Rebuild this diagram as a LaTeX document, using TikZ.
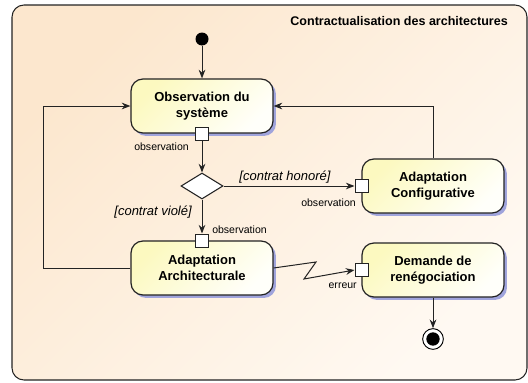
\documentclass[tikz,border=0pt]{standalone}
\usepackage{fontspec}
\setmainfont{Liberation Sans}
\usetikzlibrary{arrows.meta, positioning, shapes.geometric, shadows}

\definecolor{framepeach}{RGB}{252,231,206}
\definecolor{framelight}{RGB}{255,249,242}
\definecolor{actyellow}{RGB}{252,249,192}
\definecolor{actwhite}{RGB}{255,255,250}
\definecolor{shadowblue}{RGB}{160,164,220}
\definecolor{linegray}{RGB}{35,35,35}

\begin{document}
\begin{tikzpicture}[
  x=0.75pt, y=-0.75pt,
  every node/.style={align=center},
  activity/.style={draw=linegray, line width=0.9pt, rounded corners=9pt,
    minimum width=106.5pt, minimum height=40.5pt, inner sep=0pt,
    top color=actyellow, bottom color=actwhite, shading angle=45,
    drop shadow={shadow xshift=2.2pt, shadow yshift=-2.2pt,
      fill=shadowblue, opacity=1},
    font=\fontsize{9.75}{12.4}\selectfont\bfseries},
  pinbox/.style={draw=linegray, line width=0.6pt, fill=white,
    minimum size=9.75pt, inner sep=0pt},
  choice/.style={diamond, draw=linegray, line width=0.8pt, fill=white,
    minimum width=31.5pt, minimum height=19.5pt, inner sep=0pt},
  startdot/.style={circle, fill=black, minimum size=9.75pt, inner sep=0pt},
  enddot/.style={circle, draw=black, line width=0.7pt, fill=white,
    minimum size=15.5pt, inner sep=0pt,
    path picture={\fill[black] (path picture bounding box.center) circle (5pt);}},
  smalllabel/.style={inner sep=0pt, font=\fontsize{7.9}{9}\selectfont},
  guard/.style={inner sep=0pt, font=\fontsize{9.75}{12}\selectfont\itshape},
  arrow/.style={-{Stealth[length=6.5pt,width=5pt]}, draw=linegray, line width=0.75pt}
]
  \useasboundingbox (0,0) rectangle (528,382);

  % Frame
  \draw[rounded corners=9pt, draw=linegray, line width=0.8pt,
    top color=framepeach, bottom color=framelight, shading angle=45]
    (12,5) rectangle (527,380);
  \node[anchor=base east, inner sep=0pt,
    font=\fontsize{9.4}{11}\selectfont\bfseries] (title) at (508,26)
    {Contractualisation des architectures};

  % Activities
  \node[startdot] (start) at (202,39) {};
  \node[activity] (obs) at (202,106) {Observation du\\système};
  \node[choice] (choix) at (202,186) {};
  \node[activity] (config) at (433,186) {Adaptation\\Configurative};
  \node[activity] (arch) at (202,268) {Adaptation\\Architecturale};
  \node[activity] (demande) at (433,270) {Demande de\\renégociation};
  \node[enddot] (fin) at (433,339) {};

  % Pins
  \node[pinbox] (obspin) at (obs.south) {};
  \node[pinbox] (cfgpin) at (config.west) {};
  \node[pinbox] (archpin) at (arch.north) {};
  \node[pinbox] (dempin) at (demande.west) {};

  % Labels
  \node[smalllabel, anchor=base east] (obslbl) at (189,150) {observation};
  \node[smalllabel, anchor=base east] (cfglbl) at (356,206) {observation};
  \node[smalllabel, anchor=base west] (archlbl) at (212,233) {observation};
  \node[smalllabel, anchor=base east] (errlbl) at (357,288) {erreur};
  \node[guard, anchor=base] (honore) at (285,180) {[contrat honoré]};
  \node[guard, anchor=base east] (viole) at (192,215) {[contrat violé]};

  % Arrows
  \coordinate (zigA) at (316,262);
  \coordinate (zigB) at (304,279);
  \draw[arrow] (start) -- (obs);
  \draw[arrow] (obspin) -- (choix);
  \draw[arrow] (choix) -- (cfgpin);
  \draw[arrow] (choix) -- (archpin);
  \draw[arrow] (arch.west) -- ++(-87,0) |- (obs.west);
  \draw[arrow] (config.north) |- (obs.east);
  \draw[arrow] (arch.east) -- (zigA) -- (zigB) -- (dempin.west);
  \draw[arrow] (demande.south) -- (fin);
\end{tikzpicture}
\end{document}
